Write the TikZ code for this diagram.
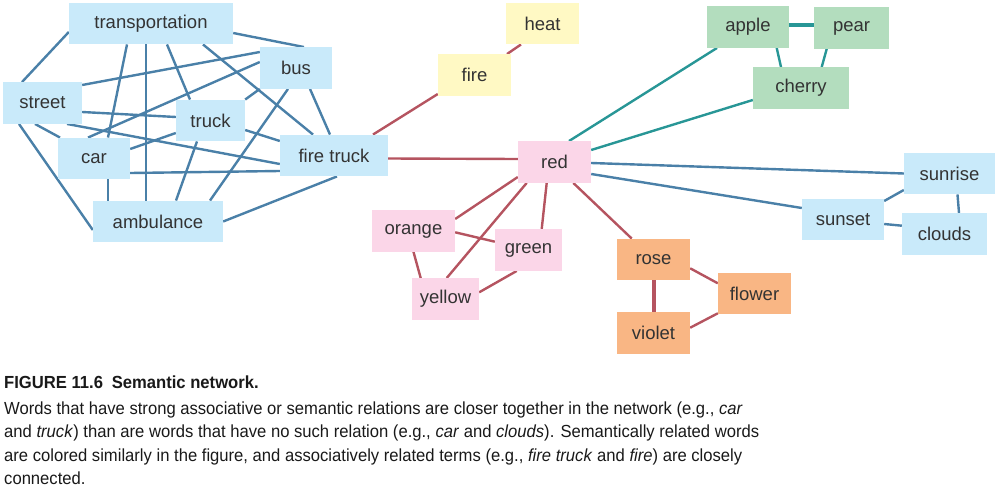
\documentclass[tikz,border=0pt]{standalone}
\usepackage{fontspec}
\usepackage{xcolor}
\usepackage{tikz}
\setmainfont{Liberation Sans}
\newfontfamily\capfont[FakeStretch=0.95]{Liberation Sans}
\definecolor{nodeblue}{RGB}{201, 234, 250}
\definecolor{nodepink}{RGB}{251, 214, 232}
\definecolor{nodeyellow}{RGB}{255, 249, 196}
\definecolor{nodegreen}{RGB}{179, 221, 190}
\definecolor{nodeorange}{RGB}{249, 182, 132}
\definecolor{lineblue}{RGB}{74, 128, 168}
\definecolor{linered}{RGB}{181, 84, 96}
\definecolor{lineteal}{RGB}{40, 150, 150}
\definecolor{textgray}{RGB}{51, 51, 51}
\usetikzlibrary{positioning, calc, backgrounds}

\begin{document}
\begin{tikzpicture}[
    x=1pt, y=-1pt,
    box/.style={rectangle, minimum height=41.5pt, inner sep=0pt,
                font=\fontsize{18.5}{20}\selectfont, text=textgray},
    bluebox/.style={box, fill=nodeblue},
    pinkbox/.style={box, fill=nodepink},
    yellowbox/.style={box, fill=nodeyellow},
    greenbox/.style={box, fill=nodegreen},
    orangebox/.style={box, fill=nodeorange},
    bluelink/.style={line width=2.4pt, lineblue},
    redlink/.style={line width=2.4pt, linered},
    teallink/.style={line width=2.4pt, lineteal}
]
    \useasboundingbox (0,0) rectangle (1000,492);

    % transport cluster
    \node[bluebox, minimum width=164pt] (trans) at (151,23.5) {transportation};
    \node[bluebox, minimum width=72pt] (bus) at (296,68) {bus};
    \node[bluebox, minimum width=79pt] (street) at (42.5,103) {street};
    \node[bluebox, minimum width=69pt] (truck) at (210.5,120.5) {truck};
    \node[bluebox, minimum width=72pt] (car) at (94,158.5) {car};
    \node[bluebox, minimum width=108pt] (firetruck) at (334,155.5) {fire truck};
    \node[bluebox, minimum width=130pt] (ambulance) at (158,221.5) {ambulance};

    % fire and colours
    \node[yellowbox, minimum width=73pt] (heat) at (542.5,23.5) {heat};
    \node[yellowbox, minimum width=73pt] (fire) at (474.5,75) {fire};
    \node[pinkbox, minimum width=73pt] (red) at (554.5,162) {red};
    \node[pinkbox, minimum width=83pt] (orange) at (413.5,231) {orange};
    \node[pinkbox, minimum width=67pt] (green) at (528.5,250) {green};
    \node[pinkbox, minimum width=67pt] (yellow) at (445.5,299) {yellow};

    % fruit, flowers, sky
    \node[greenbox, minimum width=82pt] (apple) at (748,27) {apple};
    \node[greenbox, minimum width=75pt] (pear) at (851.5,28) {pear};
    \node[greenbox, minimum width=96pt] (cherry) at (801,88) {cherry};
    \node[orangebox, minimum width=73pt] (rose) at (653.5,259.5) {rose};
    \node[orangebox, minimum width=73pt] (flower) at (754.5,293.5) {flower};
    \node[orangebox, minimum width=73pt] (violet) at (653.5,333) {violet};
    \node[bluebox, minimum width=91pt] (sunrise) at (949.5,173.5) {sunrise};
    \node[bluebox, minimum width=82pt] (sunset) at (843,219.5) {sunset};
    \node[bluebox, minimum width=85pt] (clouds) at (944.5,234) {clouds};

    \begin{scope}[on background layer]
        \draw[bluelink] ([shift={(0,8.5)}]trans.west) -- ([shift={(-20.5,0)}]street.north);
        \draw[bluelink] ([shift={(0,9.5)}]trans.east) -- ([shift={(8,0)}]bus.north);
        \draw[bluelink] ([shift={(-24,0)}]trans.south) -- ([shift={(14,0)}]car.north);
        \draw[bluelink] ([shift={(-5,0)}]trans.south) -- ([shift={(-12,0)}]ambulance.north);
        \draw[bluelink] ([shift={(16,0)}]trans.south) -- ([shift={(-20.5,0)}]truck.north);
        \draw[bluelink] ([shift={(52,0)}]trans.south) -- ([shift={(-21,0)}]firetruck.north);
        \draw[bluelink] ([shift={(0,-18)}]street.east) -- ([shift={(0,-16)}]bus.west);
        \draw[bluelink] ([shift={(0,9)}]street.east) -- ([shift={(0,-3.5)}]truck.west);
        \draw[bluelink] ([shift={(-7.5,0)}]street.south) -- ([shift={(-34,0)}]car.north);
        \draw[bluelink] ([shift={(24.5,0)}]street.south) -- ([shift={(0,8.5)}]firetruck.west);
        \draw[bluelink] ([shift={(-23.5,0)}]street.south) -- ([shift={(0,8.5)}]ambulance.west);
        \draw[bluelink] ([shift={(0,-6)}]bus.west) -- ([shift={(-6,0)}]car.north);
        \draw[bluelink] (bus.south west) -- (truck.north east);
        \draw[bluelink] ([shift={(14,0)}]bus.south) -- ([shift={(-4,0)}]firetruck.north);
        \draw[bluelink] ([shift={(-8,0)}]bus.south) -- ([shift={(52,0)}]ambulance.north);
        \draw[bluelink] ([shift={(0,12.5)}]truck.west) -- ([shift={(0,-9.5)}]car.east);
        \draw[bluelink] ([shift={(-13.5,0)}]truck.south) -- ([shift={(18,0)}]ambulance.north);
        \draw[bluelink] ([shift={(0,9.5)}]truck.east) -- ([shift={(0,-14.5)}]firetruck.west);
        \draw[bluelink] ([shift={(0,14.5)}]car.east) -- ([shift={(0,15.5)}]firetruck.west);
        \draw[bluelink] ([shift={(14,0)}]car.south) -- ([shift={(-50,0)}]ambulance.north);
        \draw[bluelink] (ambulance.east) -- ([shift={(3,0)}]firetruck.south);

        \draw[redlink] ([shift={(39,0)}]firetruck.north) -- ([shift={(0,19)}]fire.west);
        \draw[redlink] ([shift={(32.5,0)}]fire.north) -- ([shift={(-21.5,0)}]heat.south);
        \draw[redlink] ([shift={(0,3)}]firetruck.east) -- ([shift={(0,-3)}]red.west);

        \draw[teallink] ([shift={(14.5,0)}]red.north) -- ([shift={(-31,0)}]apple.south);
        \draw[teallink] ([shift={(0,-12)}]red.east) -- ([shift={(0,12)}]cherry.west);
        \draw[teallink, line width=4pt] ([shift={(0,-2)}]apple.east) -- ([shift={(0,-3)}]pear.west);
        \draw[teallink] ([shift={(28.7,0)}]apple.south) -- ([shift={(-20,0)}]cherry.north);
        \draw[teallink] ([shift={(-24.8,0)}]pear.south) -- ([shift={(20.7,0)}]cherry.north);

        \draw[bluelink] ([shift={(0,1)}]red.east) -- (sunrise.west);
        \draw[bluelink] ([shift={(0,12)}]red.east) -- ([shift={(0,-11.5)}]sunset.west);
        \draw[bluelink] ([shift={(0,-18.5)}]sunset.east) -- ([shift={(0,16.5)}]sunrise.west);
        \draw[bluelink] ([shift={(0,4.5)}]sunset.east) -- ([shift={(0,-8.3)}]clouds.west);
        \draw[bluelink] ([shift={(8,0)}]sunrise.south) -- ([shift={(14.5,0)}]clouds.north);

        \draw[redlink] ([shift={(0,15)}]red.west) -- ([shift={(0,-12)}]orange.east);
        \draw[redlink] ([shift={(-27.8,0)}]red.south) -- ([shift={(1.2,0)}]yellow.north);
        \draw[redlink] ([shift={(-7.8,0)}]red.south) -- ([shift={(13.2,0)}]green.north);
        \draw[redlink] ([shift={(18.8,0)}]red.south) -- ([shift={(-21.8,0)}]rose.north);
        \draw[redlink] ([shift={(0,1.3)}]orange.east) -- ([shift={(0,-8.3)}]green.west);
        \draw[redlink] (orange.south) -- ([shift={(-24.8,0)}]yellow.north);
        \draw[redlink] ([shift={(-11.8,0)}]green.south) -- ([shift={(0,-6.7)}]yellow.east);
        \draw[redlink, line width=4pt] (rose.south) -- (violet.north);
        \draw[redlink] ([shift={(0,8.8)}]rose.east) -- ([shift={(0,-10.2)}]flower.west);
        \draw[redlink] ([shift={(0,-5.3)}]violet.east) -- ([shift={(0,19.8)}]flower.west);
    \end{scope}

    % caption
    \node[anchor=north west, align=left, inner sep=0pt, text=black!90,
          font=\capfont\fontsize{17.5}{23.3}\selectfont] (caption) at (4,376)
        {\textbf{FIGURE 11.6\enspace Semantic network.}\\[2.5pt]
         Words that have strong associative or semantic relations are closer together in the network (e.g., \textit{car}\\
         and \textit{truck}) than are words that have no such relation (e.g., \textit{car} and \textit{clouds}). Semantically related words\\
         are colored similarly in the figure, and associatively related terms (e.g., \textit{fire truck} and \textit{fire}) are closely\\
         connected.};
\end{tikzpicture}
\end{document}
